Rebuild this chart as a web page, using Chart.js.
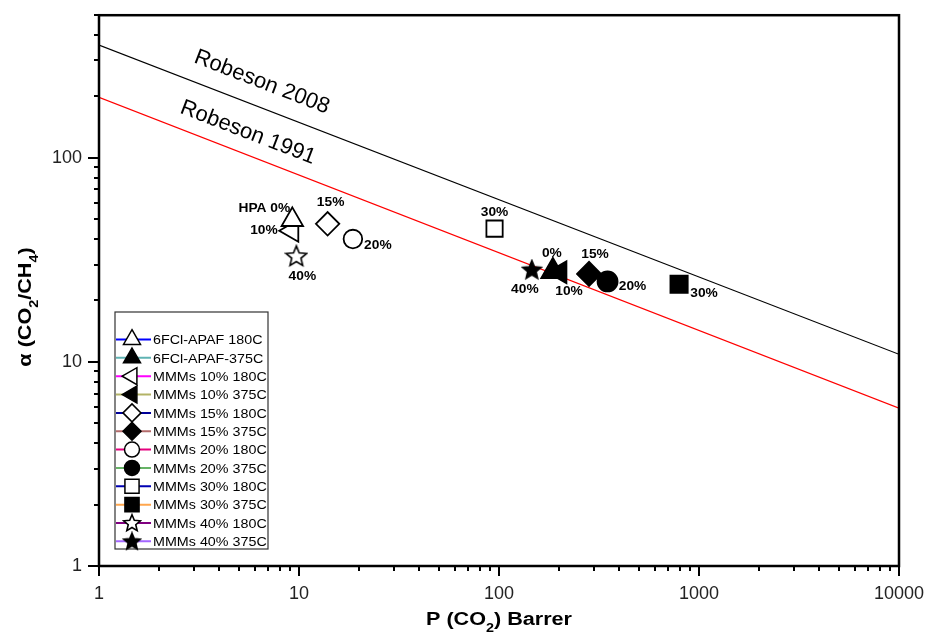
<!DOCTYPE html>
<html>
<head>
<meta charset="utf-8">
<script src="https://cdn.jsdelivr.net/npm/chart.js@4"></script>
<style>
  body { margin: 0; background: #fff; }
</style>
</head>
<body>
<canvas id="grafico" width="926" height="641"></canvas>
<script>
// valores
const seriesNames = ['6FCl-APAF 180C', '6FCl-APAF-375C', 'MMMs 10% 180C', 'MMMs 10% 375C',
  'MMMs 15% 180C', 'MMMs 15% 375C', 'MMMs 20% 180C', 'MMMs 20% 375C',
  'MMMs 30% 180C', 'MMMs 30% 375C', 'MMMs 40% 180C', 'MMMs 40% 375C']
const permCO2 = [9.26, 186, 9.22, 202, 13.9, 282, 18.6, 349, 95, 795, 9.7, 146]
const selectivity = [49.7, 27.8, 43.9, 27.5, 47.5, 27, 40, 24.8, 45, 24, 33, 28.3]
const pointTags = ['HPA 0%', '0%', '10%', '10%', '15%', '15%', '20%', '20%', '30%', '30%', '40%', '40%']

const robesonNames = ['Robeson 2008', 'Robeson 1991']
const robesonP = [1, 10000]
const robeson2008 = [357, 10.9]
const robeson1991 = [198, 5.93]

const xTicks = [1, 10, 100, 1000, 10000]
const yTicks = [1, 10, 100]

// estilo
const legendColors = ['#0000ff', '#5fb3b3', '#ff00ff', '#b3b366', '#000099', '#b36b6b',
  '#e6007e', '#66b366', '#0000b3', '#ffa64d', '#800080', '#a366ff']
const markerStyle = ['triangle', 'triangle', 'triangle', 'triangle', 'rectRot', 'rectRot',
  'circle', 'circle', 'rect', 'rect', 'star', 'star']
const markerRot = [0, 0, -90, -90, 0, 0, 0, 0, 0, 0, 0, 0]
const markerRadius = [12.4, 13.4, 12.7, 12.7, 11.7, 12, 9.3, 10, 11.5, 12.2, 24, 22]
const legendRadius = [9.8, 9.8, 9.8, 9.8, 9, 9, 7.5, 7.5, 10, 10, 20, 20]
const tagOffset = [[-28, -12], [-1, -18], [-28, -1], [9, 19], [3, -22], [6, -20],
  [25, 6], [25, 5], [0, -16], [25, 9], [6, 20], [-7, 20]]

const FONT = 'Liberation Sans, Arial, sans-serif'

function makeStar(size, filled) {
  const c = document.createElement('canvas')
  c.width = size
  c.height = size
  const g = c.getContext('2d')
  const R = size / 2 - 1.2
  const r = R * 0.45
  const cx = size / 2
  const cy = size / 2 + R * 0.06
  g.beginPath()
  for (let i = 0; i < 10; i++) {
    const a = -Math.PI / 2 + i * Math.PI / 5
    const rr = i % 2 ? r : R
    g.lineTo(cx + rr * Math.cos(a), cy + rr * Math.sin(a))
  }
  g.closePath()
  g.fillStyle = filled ? '#000' : '#fff'
  g.fill()
  g.lineWidth = 1.6
  g.strokeStyle = '#000'
  g.stroke()
  return c
}

function styleFor(i, legend) {
  const filled = i % 2 === 1
  const rad = legend ? legendRadius[i] : markerRadius[i]
  if (markerStyle[i] === 'star') return makeStar(Math.round(rad), filled)
  return markerStyle[i]
}

const datasets = seriesNames.map((nome, i) => ({
  label: nome,
  data: [{ x: permCO2[i], y: selectivity[i] }],
  pointStyle: styleFor(i, false),
  pointRotation: markerRot[i],
  pointRadius: markerStyle[i] === 'star' ? 11 : markerRadius[i],
  pointBackgroundColor: i % 2 ? '#000' : '#fff',
  pointBorderColor: '#000',
  pointBorderWidth: 1.8,
  order: 1
}))

datasets.push({
  label: robesonNames[0],
  data: robesonP.map((p, k) => ({ x: p, y: robeson2008[k] })),
  showLine: true, borderColor: '#000', borderWidth: 1.2, pointRadius: 0, order: 2
})
datasets.push({
  label: robesonNames[1],
  data: robesonP.map((p, k) => ({ x: p, y: robeson1991[k] })),
  showLine: true, borderColor: '#ff0000', borderWidth: 1.2, pointRadius: 0, order: 2
})

// texto esticado na horizontal, como no original
function stretchText(ctx, txt, x, y, sx) {
  ctx.save()
  ctx.translate(x, y)
  ctx.scale(sx, 1)
  ctx.fillText(txt, 0, 0)
  ctx.restore()
}

function richText(ctx, parts, size, sx) {
  // desenha centrado em (0,0), com subscritos
  const big = 'bold ' + size + 'px ' + FONT
  const small = 'bold ' + Math.round(size * 0.65) + 'px ' + FONT
  let total = 0
  parts.forEach(p => { ctx.font = p.sub ? small : big; total += ctx.measureText(p.t).width })
  ctx.save()
  ctx.scale(sx, 1)
  let x = -total / 2
  ctx.textAlign = 'left'
  ctx.textBaseline = 'alphabetic'
  parts.forEach(p => {
    ctx.font = p.sub ? small : big
    ctx.fillText(p.t, x, p.sub ? size * 0.38 + 6 : 6)
    x += ctx.measureText(p.t).width
  })
  ctx.restore()
}

const extras = {
  id: 'extras',
  afterDraw(chart) {
    const ctx = chart.ctx
    const a = chart.chartArea
    const xs = chart.scales.x
    const ys = chart.scales.y

    // moldura
    ctx.save()
    ctx.strokeStyle = '#000'
    ctx.lineWidth = 2.5
    ctx.strokeRect(a.left, a.top, a.right - a.left, a.bottom - a.top)

    // marcas dos eixos
    ctx.lineWidth = 2
    for (let d = 0; d < 4; d++) {
      for (let m = 1; m <= 9; m++) {
        const px = Math.round(xs.getPixelForValue(m * Math.pow(10, d)))
        ctx.beginPath()
        ctx.moveTo(px, a.bottom)
        ctx.lineTo(px, a.bottom + (m === 1 ? 10 : 5))
        ctx.stroke()
      }
    }
    const pe = Math.round(xs.getPixelForValue(10000))
    ctx.beginPath(); ctx.moveTo(pe, a.bottom); ctx.lineTo(pe, a.bottom + 10); ctx.stroke()
    for (let d = 0; d < 3; d++) {
      for (let m = 1; m <= 9; m++) {
        const v = m * Math.pow(10, d)
        if (v > ys.max) continue
        const py = Math.round(ys.getPixelForValue(v))
        ctx.beginPath()
        ctx.moveTo(a.left, py)
        ctx.lineTo(a.left - (m === 1 ? 11 : 5), py)
        ctx.stroke()
      }
    }

    // Robeson
    const ang = Math.atan2(ys.getPixelForValue(robeson2008[1]) - ys.getPixelForValue(robeson2008[0]),
      xs.getPixelForValue(robesonP[1]) - xs.getPixelForValue(robesonP[0]))
    const anchors = [[5.9, robeson2008, 24], [5.09, robeson1991, 21]]
    ctx.fillStyle = '#000'
    ctx.font = '22px ' + FONT
    ctx.textAlign = 'center'
    ctx.textBaseline = 'middle'
    anchors.forEach(([xv, arr, off], k) => {
      const x0 = xs.getPixelForValue(xv)
      const x1 = xs.getPixelForValue(robesonP[0]), x2 = xs.getPixelForValue(robesonP[1])
      const y1 = ys.getPixelForValue(arr[0]), y2 = ys.getPixelForValue(arr[1])
      const y0 = y1 + (y2 - y1) * (x0 - x1) / (x2 - x1)
      ctx.save()
      ctx.translate(x0 + off * Math.sin(ang), y0 - off * Math.cos(ang))
      ctx.rotate(ang)
      ctx.fillText(robesonNames[k], 0, 0)
      ctx.restore()
    })

    // rotulos dos pontos
    ctx.font = 'bold 13.5px ' + FONT
    pointTags.forEach((t, i) => {
      const el = chart.getDatasetMeta(i).data[0]
      stretchText(ctx, t, el.x + tagOffset[i][0], el.y + tagOffset[i][1], 1.02)
    })

    // legenda
    const lx = 115, ly = 312, lw = 153, lh = 237
    ctx.fillStyle = '#fff'
    ctx.fillRect(lx, ly, lw, lh)
    ctx.strokeStyle = '#333'
    ctx.lineWidth = 1.2
    ctx.strokeRect(lx, ly, lw, lh)
    seriesNames.forEach((nome, i) => {
      const cy = ly + 27.5 + i * 18.35
      ctx.strokeStyle = legendColors[i]
      ctx.lineWidth = 2
      ctx.beginPath(); ctx.moveTo(lx + 1, cy); ctx.lineTo(lx + 36, cy); ctx.stroke()
      ctx.fillStyle = i % 2 ? '#000' : '#fff'
      ctx.strokeStyle = '#000'
      ctx.lineWidth = 1.5
      Chart.helpers.drawPoint(ctx, {
        pointStyle: styleFor(i, true),
        rotation: markerRot[i],
        radius: legendRadius[i],
        borderWidth: 1.5
      }, lx + 17, cy)
      ctx.fillStyle = '#000'
      ctx.font = '13.5px ' + FONT
      ctx.textAlign = 'left'
      ctx.textBaseline = 'middle'
      stretchText(ctx, nome, lx + 38, cy + 1, 1.06)
    })

    // titulos dos eixos
    ctx.fillStyle = '#000'
    ctx.save()
    ctx.translate((a.left + a.right) / 2, 619)
    richText(ctx, [{ t: 'P (CO' }, { t: '2', sub: true }, { t: ') Barrer' }], 18, 1.2)
    ctx.restore()
    ctx.save()
    ctx.translate(25, 307)
    ctx.rotate(-Math.PI / 2)
    richText(ctx, [{ t: 'α (CO' }, { t: '2', sub: true }, { t: '/CH' }, { t: '4', sub: true }, { t: ')' }], 18, 1.2)
    ctx.restore()
    ctx.restore()
  }
}

const ctx = document.getElementById('grafico')

new Chart(ctx, {
  type: 'scatter',
  data: { datasets: datasets },
  options: {
    responsive: false,
    animation: false,
    layout: { padding: { top: 14, right: 27, left: 0, bottom: 0 } },
    plugins: { legend: { display: false }, tooltip: { enabled: false } },
    scales: {
      x: {
        type: 'logarithmic', min: 1, max: 10000,
        afterBuildTicks: s => { s.ticks = xTicks.map(v => ({ value: v })) },
        afterFit: s => { s.height = 75; s.paddingLeft = 0; s.paddingRight = 0 },
        grid: { display: false, drawTicks: false },
        border: { display: false },
        ticks: { callback: v => String(v), color: '#222', font: { family: FONT, size: 18 }, padding: 17, maxRotation: 0, autoSkip: false }
      },
      y: {
        type: 'logarithmic', min: 1, max: 500,
        afterBuildTicks: s => { s.ticks = yTicks.map(v => ({ value: v })) },
        afterFit: s => { s.width = 99; s.paddingTop = 0; s.paddingBottom = 0 },
        grid: { display: false, drawTicks: false },
        border: { display: false },
        ticks: { callback: v => String(v), color: '#222', font: { family: FONT, size: 18 }, padding: 17, autoSkip: false }
      }
    }
  },
  plugins: [extras]
})
</script>
</body>
</html>
